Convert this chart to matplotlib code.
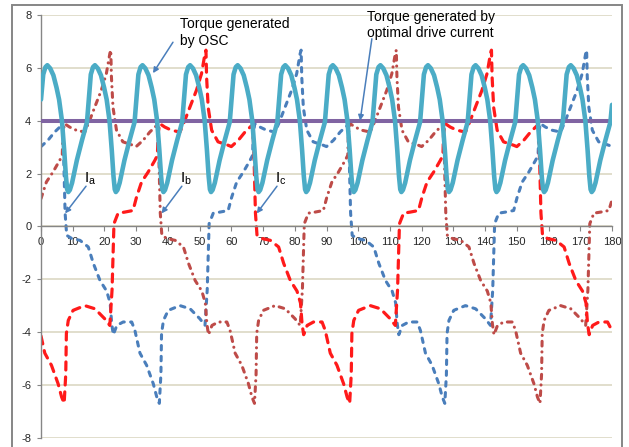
import matplotlib
matplotlib.use('Agg')
import matplotlib.pyplot as plt
from matplotlib.patches import Rectangle

plt.rcParams['font.family'] = ['Liberation Sans', 'DejaVu Sans']
plt.rcParams['axes.unicode_minus'] = False
plt.rcParams['mathtext.fontset'] = 'custom'
plt.rcParams['mathtext.rm'] = 'Liberation Sans'
plt.rcParams['mathtext.it'] = 'Liberation Sans'
plt.rcParams['lines.scale_dashes'] = False

# ---------------- data ----------------
x_ticks = list(range(0, 181, 10))
y_ticks = list(range(-8, 9, 2))

# torque generated by the optimal drive current (constant)
opt_x = [0, 180]
opt_y = [4.0, 4.0]

# torque generated by OSC
osc_x = [
    0, 0.7, 1.4, 2, 2.9, 3.9, 4.9, 5.7, 6.6, 7.3, 7.85, 8.25, 8.6, 9.1, 9.8, 11.3, 12.9,
    14.5, 15.1, 15.7, 16.4, 17, 17.9, 18.9, 19.9, 20.7, 21.6, 22.3, 22.85, 23.25, 23.6, 24.1, 24.8, 26.3, 27.9,
    29.5, 30.1, 30.7, 31.4, 32, 32.9, 33.9, 34.9, 35.7, 36.6, 37.3, 37.85, 38.25, 38.6, 39.1, 39.8, 41.3, 42.9,
    44.5, 45.1, 45.7, 46.4, 47, 47.9, 48.9, 49.9, 50.7, 51.6, 52.3, 52.85, 53.25, 53.6, 54.1, 54.8, 56.3, 57.9,
    59.5, 60.1, 60.7, 61.4, 62, 62.9, 63.9, 64.9, 65.7, 66.6, 67.3, 67.85, 68.25, 68.6, 69.1, 69.8, 71.3, 72.9,
    74.5, 75.1, 75.7, 76.4, 77, 77.9, 78.9, 79.9, 80.7, 81.6, 82.3, 82.85, 83.25, 83.6, 84.1, 84.8, 86.3, 87.9,
    89.5, 90.1, 90.7, 91.4, 92, 92.9, 93.9, 94.9, 95.7, 96.6, 97.3, 97.85, 98.25, 98.6, 99.1, 99.8, 101.3, 102.9,
    104.5, 105.1, 105.7, 106.4, 107, 107.9, 108.9, 109.9, 110.7, 111.6, 112.3, 112.85, 113.25, 113.6, 114.1, 114.8, 116.3, 117.9,
    119.5, 120.1, 120.7, 121.4, 122, 122.9, 123.9, 124.9, 125.7, 126.6, 127.3, 127.85, 128.25, 128.6, 129.1, 129.8, 131.3, 132.9,
    134.5, 135.1, 135.7, 136.4, 137, 137.9, 138.9, 139.9, 140.7, 141.6, 142.3, 142.85, 143.25, 143.6, 144.1, 144.8, 146.3, 147.9,
    149.5, 150.1, 150.7, 151.4, 152, 152.9, 153.9, 154.9, 155.7, 156.6, 157.3, 157.85, 158.25, 158.6, 159.1, 159.8, 161.3, 162.9,
    164.5, 165.1, 165.7, 166.4, 167, 167.9, 168.9, 169.9, 170.7, 171.6, 172.3, 172.85, 173.25, 173.6, 174.1, 174.8, 176.3, 177.9,
    179.5, 180,
]
osc_y = [
    4.8, 5.75, 6.03, 6.1, 5.98, 5.72, 5.25, 4.8, 4.0, 2.9, 1.9, 1.4, 1.3, 1.38, 1.65, 2.5, 3.25,
    3.95, 4.85, 5.75, 6.03, 6.1, 5.98, 5.72, 5.25, 4.8, 4.0, 2.9, 1.9, 1.4, 1.3, 1.38, 1.65, 2.5, 3.25,
    3.95, 4.85, 5.75, 6.03, 6.1, 5.98, 5.72, 5.25, 4.8, 4.0, 2.9, 1.9, 1.4, 1.3, 1.38, 1.65, 2.5, 3.25,
    3.95, 4.85, 5.75, 6.03, 6.1, 5.98, 5.72, 5.25, 4.8, 4.0, 2.9, 1.9, 1.4, 1.3, 1.38, 1.65, 2.5, 3.25,
    3.95, 4.85, 5.75, 6.03, 6.1, 5.98, 5.72, 5.25, 4.8, 4.0, 2.9, 1.9, 1.4, 1.3, 1.38, 1.65, 2.5, 3.25,
    3.95, 4.85, 5.75, 6.03, 6.1, 5.98, 5.72, 5.25, 4.8, 4.0, 2.9, 1.9, 1.4, 1.3, 1.38, 1.65, 2.5, 3.25,
    3.95, 4.85, 5.75, 6.03, 6.1, 5.98, 5.72, 5.25, 4.8, 4.0, 2.9, 1.9, 1.4, 1.3, 1.38, 1.65, 2.5, 3.25,
    3.95, 4.85, 5.75, 6.03, 6.1, 5.98, 5.72, 5.25, 4.8, 4.0, 2.9, 1.9, 1.4, 1.3, 1.38, 1.65, 2.5, 3.25,
    3.95, 4.85, 5.75, 6.03, 6.1, 5.98, 5.72, 5.25, 4.8, 4.0, 2.9, 1.9, 1.4, 1.3, 1.38, 1.65, 2.5, 3.25,
    3.95, 4.85, 5.75, 6.03, 6.1, 5.98, 5.72, 5.25, 4.8, 4.0, 2.9, 1.9, 1.4, 1.3, 1.38, 1.65, 2.5, 3.25,
    3.95, 4.85, 5.75, 6.03, 6.1, 5.98, 5.72, 5.25, 4.8, 4.0, 2.9, 1.9, 1.4, 1.3, 1.38, 1.65, 2.5, 3.25,
    3.95, 4.85, 5.75, 6.03, 6.1, 5.98, 5.72, 5.25, 4.8, 4.0, 2.9, 1.9, 1.4, 1.3, 1.38, 1.65, 2.5, 3.25,
    3.95, 4.6,
]

# phase current Ia
ia_x = [
    0, 2.2, 4.3, 6.2, 6.8, 7.2, 7.6, 8.1, 9.7, 12.3, 14.9, 16.5, 18.6, 20.7, 21.8, 22.3, 22.8,
    23.9, 25.9, 28.6, 29.6, 31.2, 33.3, 35.4, 36.5, 37.3, 37.8, 38.0, 38.6, 40.1, 43.8, 47.0,
    50.1, 51.7, 52.4, 53.0, 54.3, 56.4, 59.0, 60.1, 61.7, 63.8, 65.9, 66.7, 66.9, 67.4, 69.0,
    71.1, 73.8, 75.3, 76.9, 79.0, 80.6, 81.7, 82.0, 82.2, 82.7, 83.8, 85.8, 89.0,
    90, 92.2, 94.3, 96.2, 96.8, 97.2, 97.6, 98.1, 99.7, 102.3, 104.9, 106.5, 108.6, 110.7, 111.8,
    112.3, 112.8, 113.9, 115.9, 118.6, 119.6, 121.2, 123.3, 125.4, 126.5, 127.3, 127.8, 128.0,
    128.6, 130.1, 133.8, 137.0, 140.1, 141.7, 142.4, 143.0, 144.3, 146.4, 149.0, 150.1, 151.7,
    153.8, 155.9, 156.7, 156.9, 157.4, 159.0, 161.1, 163.8, 165.3, 166.9, 169.0, 170.6, 171.7,
    172.0, 172.2, 172.7, 173.8, 175.8, 179.0, 180,
]
ia_y = [
    3.02, 3.26, 3.57, 3.79, 3.8, 2.4, 0.5, -0.34, -0.46, -0.53, -0.78, -1.4, -2.05, -2.45, -2.9, -3.7, -4.1,
    -3.75, -3.62, -3.62, -3.94, -4.8, -5.26, -5.96, -6.46, -6.7, -5.6, -4.06, -3.56, -3.18, -3.0, -3.12,
    -3.5, -3.75, -2.4, 0.1, 0.5, 0.54, 0.6, 1.1, 1.68, 2.06, 2.5, 2.69, 3.5, 3.89, 3.76,
    3.64, 3.57, 4.0, 4.5, 5.15, 5.78, 6.54, 6.67, 5.66, 4.5, 3.64, 3.2, 3.07,
    3.02, 3.26, 3.57, 3.79, 3.8, 2.4, 0.5, -0.34, -0.46, -0.53, -0.78, -1.4, -2.05, -2.45, -2.9,
    -3.7, -4.1, -3.75, -3.62, -3.62, -3.94, -4.8, -5.26, -5.96, -6.46, -6.7, -5.6, -4.06,
    -3.56, -3.18, -3.0, -3.12, -3.5, -3.75, -2.4, 0.1, 0.5, 0.54, 0.6, 1.1, 1.68,
    2.06, 2.5, 2.69, 3.5, 3.89, 3.76, 3.64, 3.57, 4.0, 4.5, 5.15, 5.78, 6.54,
    6.67, 5.66, 4.5, 3.64, 3.2, 3.07, 3.02,
]

# phase current Ib
ib_x = [
    0, 1.7, 3.8, 5.9, 6.7, 6.9, 7.4, 9.0, 11.1, 13.8, 15.3, 16.9, 19.0, 20.6, 21.7, 22.0,
    22.2, 22.7, 23.8, 25.8, 29.0,
    30, 32.2, 34.3, 36.2, 36.8, 37.2, 37.6, 38.1, 39.7, 42.3, 44.9, 46.5, 48.6, 50.7, 51.8,
    52.3, 52.8, 53.9, 55.9, 58.6, 59.6, 61.2, 63.3, 65.4, 66.5, 67.3, 67.8, 68.0, 68.6, 70.1,
    73.8, 77.0, 80.1, 81.7, 82.4, 83.0, 84.3, 86.4, 89.0, 90.1, 91.7, 93.8, 95.9, 96.7, 96.9,
    97.4, 99.0, 101.1, 103.8, 105.3, 106.9, 109.0, 110.6, 111.7, 112.0, 112.2, 112.7, 113.8,
    115.8, 119.0,
    120, 122.2, 124.3, 126.2, 126.8, 127.2, 127.6, 128.1, 129.7, 132.3, 134.9, 136.5, 138.6,
    140.7, 141.8, 142.3, 142.8, 143.9, 145.9, 148.6, 149.6, 151.2, 153.3, 155.4, 156.5, 157.3,
    157.8, 158.0, 158.6, 160.1, 163.8, 167.0, 170.1, 171.7, 172.4, 173.0, 174.3, 176.4, 179.0, 180,
]
ib_y = [
    1.05, 1.68, 2.06, 2.5, 2.69, 3.5, 3.89, 3.76, 3.64, 3.57, 4.0, 4.5, 5.15, 5.78, 6.54, 6.67,
    5.66, 4.5, 3.64, 3.2, 3.07,
    3.02, 3.26, 3.57, 3.79, 3.8, 2.4, 0.5, -0.34, -0.46, -0.53, -0.78, -1.4, -2.05, -2.45, -2.9,
    -3.7, -4.1, -3.75, -3.62, -3.62, -3.94, -4.8, -5.26, -5.96, -6.46, -6.7, -5.6, -4.06, -3.56, -3.18,
    -3.0, -3.12, -3.5, -3.75, -2.4, 0.1, 0.5, 0.54, 0.6, 1.1, 1.68, 2.06, 2.5, 2.69, 3.5,
    3.89, 3.76, 3.64, 3.57, 4.0, 4.5, 5.15, 5.78, 6.54, 6.67, 5.66, 4.5, 3.64,
    3.2, 3.07,
    3.02, 3.26, 3.57, 3.79, 3.8, 2.4, 0.5, -0.34, -0.46, -0.53, -0.78, -1.4, -2.05,
    -2.45, -2.9, -3.7, -4.1, -3.75, -3.62, -3.62, -3.94, -4.8, -5.26, -5.96, -6.46, -6.7,
    -5.6, -4.06, -3.56, -3.18, -3.0, -3.12, -3.5, -3.75, -2.4, 0.1, 0.5, 0.54, 0.6, 1.0,
]

# phase current Ic
ic_x = [
    0, 1.2, 3.3, 5.4, 6.5, 7.3, 7.8, 8.0, 8.6, 10.1, 13.8, 17.0, 20.1, 21.7, 22.4, 23.0, 24.3,
    26.4, 29.0, 30.1, 31.7, 33.8, 35.9, 36.7, 36.9, 37.4, 39.0, 41.1, 43.8, 45.3, 46.9, 49.0,
    50.6, 51.7, 52.0, 52.2, 52.7, 53.8, 55.8, 59.0,
    60, 62.2, 64.3, 66.2, 66.8, 67.2, 67.6, 68.1, 69.7, 72.3, 74.9, 76.5, 78.6, 80.7, 81.8,
    82.3, 82.8, 83.9, 85.9, 88.6, 89.6, 91.2, 93.3, 95.4, 96.5, 97.3, 97.8, 98.0, 98.6, 100.1,
    103.8, 107.0, 110.1, 111.7, 112.4, 113.0, 114.3, 116.4, 119.0, 120.1, 121.7, 123.8, 125.9,
    126.7, 126.9, 127.4, 129.0, 131.1, 133.8, 135.3, 136.9, 139.0, 140.6, 141.7, 142.0, 142.2,
    142.7, 143.8, 145.8, 149.0,
    150, 152.2, 154.3, 156.2, 156.8, 157.2, 157.6, 158.1, 159.7, 162.3, 164.9, 166.5, 168.6,
    170.7, 171.8, 172.3, 172.8, 173.9, 175.9, 178.6, 180,
]
ic_y = [
    -4.15, -4.8, -5.26, -5.96, -6.46, -6.7, -5.6, -4.06, -3.56, -3.18, -3.0, -3.12, -3.5, -3.75, -2.4, 0.1, 0.5,
    0.54, 0.6, 1.1, 1.68, 2.06, 2.5, 2.69, 3.5, 3.89, 3.76, 3.64, 3.57, 4.0, 4.5, 5.15,
    5.78, 6.54, 6.67, 5.66, 4.5, 3.64, 3.2, 3.07,
    3.02, 3.26, 3.57, 3.79, 3.8, 2.4, 0.5, -0.34, -0.46, -0.53, -0.78, -1.4, -2.05, -2.45, -2.9,
    -3.7, -4.1, -3.75, -3.62, -3.62, -3.94, -4.8, -5.26, -5.96, -6.46, -6.7, -5.6, -4.06, -3.56, -3.18,
    -3.0, -3.12, -3.5, -3.75, -2.4, 0.1, 0.5, 0.54, 0.6, 1.1, 1.68, 2.06, 2.5,
    2.69, 3.5, 3.89, 3.76, 3.64, 3.57, 4.0, 4.5, 5.15, 5.78, 6.54, 6.67, 5.66,
    4.5, 3.64, 3.2, 3.07,
    3.02, 3.26, 3.57, 3.79, 3.8, 2.4, 0.5, -0.34, -0.46, -0.53, -0.78, -1.4, -2.05,
    -2.45, -2.9, -3.7, -4.1, -3.75, -3.62, -3.62, -3.95,
]

# ---------------- styling ----------------
C_OSC = '#4BACC6'
C_OPT = '#8064A2'
C_IA = '#4A7EBB'
C_IB = '#BE4B48'
C_IC = '#FF1A1A'
C_GRID = '#D9D4BF'
C_AXIS = '#868686'
C_ARROW = '#4A7EBB'

fig = plt.figure(figsize=(6.29, 4.47), dpi=100)
fig.patch.set_facecolor('white')

# chart-area border
fig.patches.append(Rectangle((12 / 629, -0.05), 610 / 629, 0.9888 + 0.05,
                             transform=fig.transFigure, fill=False,
                             edgecolor=C_AXIS, linewidth=1.4, zorder=0))

ax = fig.add_axes([41 / 629, 0.0208, 571 / 629, 0.9456])
ax.set_xlim(0, 180)
ax.set_ylim(-8, 8)

ax.set_xticks(x_ticks)
ax.set_xticklabels([str(v) for v in x_ticks])
ax.set_yticks(y_ticks)
ax.set_yticklabels([str(v) for v in y_ticks])

ax.yaxis.grid(True, color=C_GRID, linewidth=1.1)
ax.set_axisbelow(True)

for s in ('top', 'right'):
    ax.spines[s].set_visible(False)
ax.spines['bottom'].set_position(('data', 0))
ax.spines['bottom'].set_color(C_AXIS)
ax.spines['left'].set_color(C_AXIS)
ax.spines['bottom'].set_linewidth(1.0)
ax.spines['left'].set_linewidth(1.0)

ax.tick_params(axis='x', direction='out', length=3.5, width=0.8, color=C_AXIS,
               labelsize=8, pad=4.5, labelcolor='#262626')
ax.tick_params(axis='y', direction='out', length=3, width=0.8, color=C_AXIS,
               labelsize=8, pad=4, labelcolor='#262626')

# phase currents
ax.plot(ia_x, ia_y, color=C_IA, lw=2.2, dashes=(3.2, 4.6),
        dash_capstyle='round', solid_joinstyle='round', zorder=2)
ax.plot(ib_x, ib_y, color=C_IB, lw=2.2, dashes=(3.4, 4.2, 0.1, 4.2),
        dash_capstyle='round', solid_joinstyle='round', zorder=2)
ax.plot(ic_x, ic_y, color=C_IC, lw=2.3, dashes=(5.8, 5.0),
        dash_capstyle='round', solid_joinstyle='round', zorder=2)

# torque curves
ax.plot(opt_x, opt_y, color=C_OPT, lw=2.9, solid_capstyle='butt', zorder=3)
ax.plot(osc_x, osc_y, color=C_OSC, lw=3.3, solid_joinstyle='round',
        solid_capstyle='round', zorder=4)

# annotations
arrow_kw = dict(arrowstyle='-|>', color=C_ARROW, lw=1.1, mutation_scale=8,
                shrinkA=0, shrinkB=0)

ax.text(43.8, 7.5, 'Torque generated', fontsize=10, ha='left', va='baseline')
ax.text(43.8, 6.87, 'by OSC', fontsize=10, ha='left', va='baseline')
ax.annotate('', xy=(35.3, 5.8), xytext=(41.6, 6.97), arrowprops=arrow_kw)

ax.text(102.7, 7.76, 'Torque generated by', fontsize=10, ha='left', va='baseline')
ax.text(102.7, 7.17, 'optimal drive current', fontsize=10, ha='left', va='baseline')
ax.annotate('', xy=(100.6, 4.0), xytext=(104.3, 7.1), arrowprops=arrow_kw)

for lab, tx, tip in (('a', 13.6, 7.6), ('b', 43.8, 38.0), ('c', 73.8, 68.0)):
    ax.text(tx, 1.67, r'I$_{\mathrm{' + lab + '}}$', fontsize=11,
            ha='left', va='baseline')
    ax.annotate('', xy=(tip, 0.49), xytext=(tx + 0.6, 1.52), arrowprops=arrow_kw)

fig.savefig('out.png', dpi=100, facecolor='white')
